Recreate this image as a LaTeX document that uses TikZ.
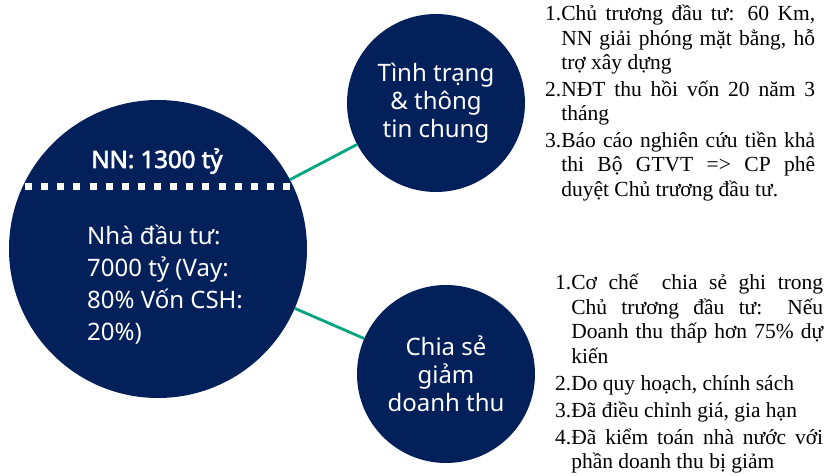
\documentclass[tikz,border=0pt]{standalone}
\usepackage{fontspec}
\setmainfont{Liberation Serif}
\newfontfamily\circfont{Noto Sans}
\newfontfamily\circbold{Noto Sans}[FakeBold=2.5]
\definecolor{circlenavy}{HTML}{03205B}
\definecolor{linkgreen}{HTML}{00A67E}

% numbered point with a hanging indent under its text
\newcommand{\numpoint}[2]{\setbox0\hbox{#1}\noindent\hangindent=\wd0\hangafter=1 #1#2\par}

\tikzset{
  bubble/.style={circle, fill=circlenavy, inner sep=0pt, text=white, align=center},
  bigbubble/.style={bubble, minimum size=298pt},
  smallbubble/.style={bubble, minimum size=178pt,
    font={\circfont\fontsize{24}{28}\selectfont}},
  link/.style={draw=linkgreen, line width=2.8pt},
  divider/.style={draw=white, line width=7pt, dash pattern=on 7pt off 9.125pt},
  bubbletext/.style={inner sep=0pt, text=white, font={\circfont\fontsize{24}{31.7}\selectfont}},
  notes/.style={inner sep=0pt, anchor=base west, text=black}
}

\begin{document}
\begin{tikzpicture}[x=1pt, y=-1pt]
\useasboundingbox (0,0) rectangle (831,476);

% the three circles
\node[bigbubble] (big) at (158,249) {};
\node[smallbubble] (info) at (436,103) {Tình trạng\\\& thông\\tin chung};
\node[smallbubble] (share) at (446,374) {Chia sẻ\\giảm\\doanh thu};

% connectors
\draw[link] (big) -- (info);
\draw[link] (big) -- (share);

% contents of the large circle
\node[bubbletext, anchor=base, font={\circbold\fontsize{24}{28}\selectfont}] (nn) at (157,168) {NN: 1300 tỷ};
\coordinate (divL) at (25,186.5);
\coordinate (divR) at (290,186.5);
\draw[divider] (divL) -- (divR);
\node[bubbletext, anchor=base west] (ndt) at (87,245)
  {\parbox[t]{210pt}{\raggedright Nhà đầu tư:\\7000 tỷ (Vay:\\80\% Vốn CSH:\\20\%)}};

% notes beside the circles
\node[notes] (infonotes) at (545,21) {\parbox[t]{270pt}{\fontsize{21.5}{24.5}\selectfont\setlength{\parskip}{2pt}%
  \numpoint{1.}{Chủ trương đầu tư: 60 Km,\linebreak NN giải phóng mặt bằng, hỗ\linebreak trợ xây dựng}
  \numpoint{2.}{NĐT thu hồi vốn 20 năm 3\linebreak tháng}
  \numpoint{3.}{Báo cáo nghiên cứu tiền khả\linebreak thi Bộ GTVT => CP phê\linebreak duyệt Chủ trương đầu tư.}}};

\node[notes] (sharenotes) at (555,290) {\parbox[t]{268pt}{\fontsize{21.5}{24.5}\selectfont\setlength{\parskip}{2.5pt}%
  \numpoint{1.}{Cơ chế\ \ chia sẻ ghi trong\linebreak Chủ trương đầu tư: Nếu\linebreak Doanh thu thấp hơn 75\% dự\linebreak kiến}
  \numpoint{2.}{Do quy hoạch, chính sách}
  \numpoint{3.}{Đã điều chỉnh giá, gia hạn}
  \numpoint{4.}{Đã kiểm toán nhà nước với\linebreak phần doanh thu bị giảm}}};
\end{tikzpicture}
\end{document}
